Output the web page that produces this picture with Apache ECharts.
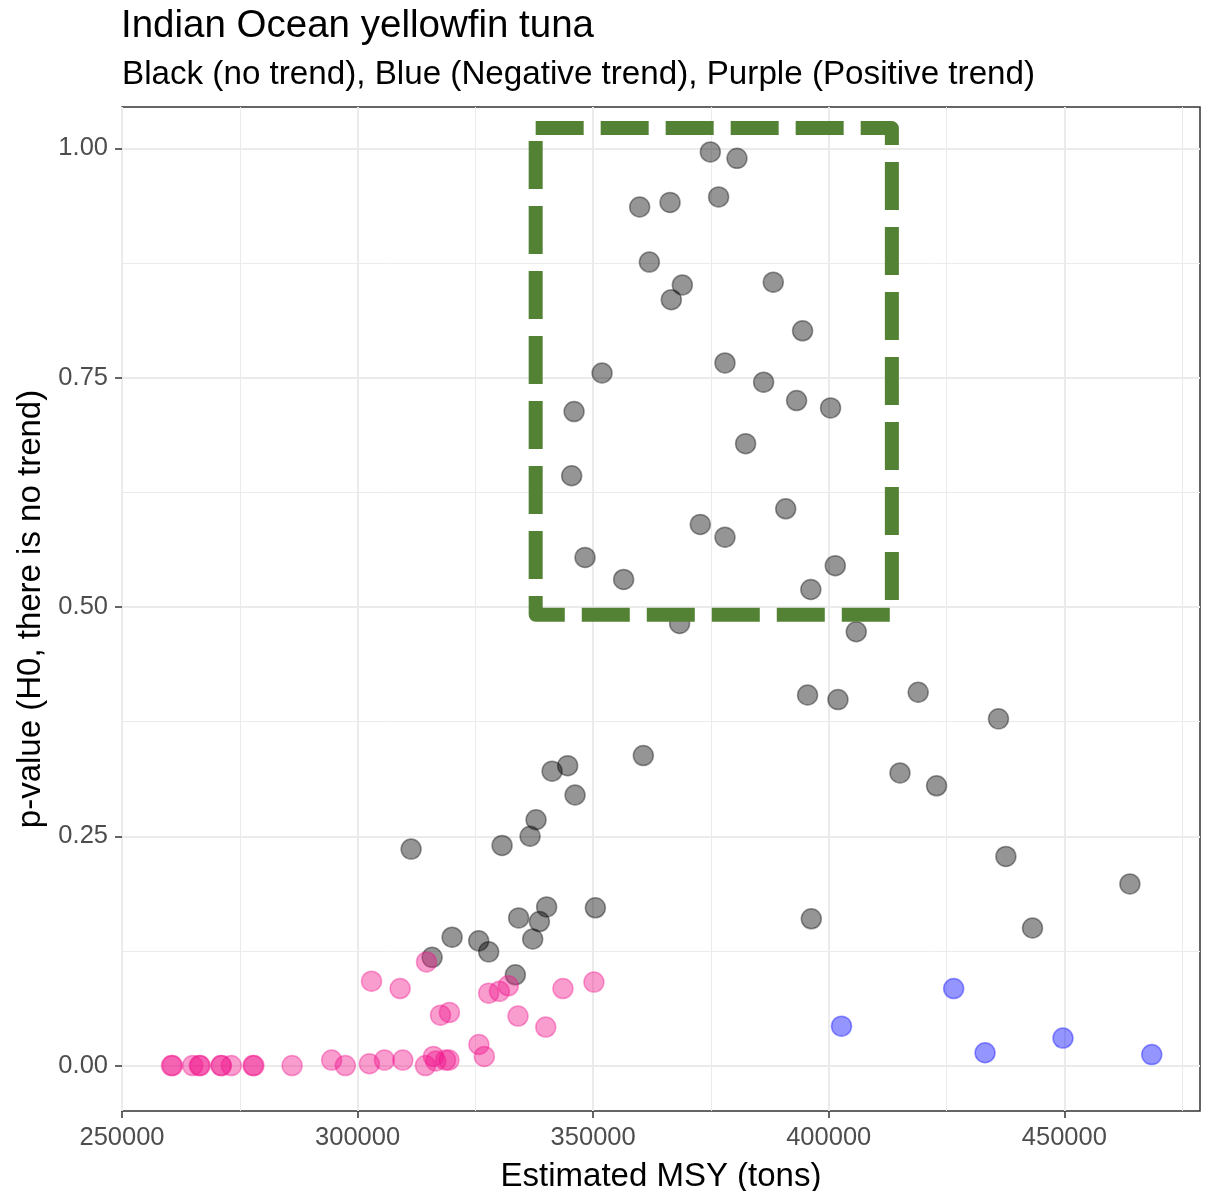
<!DOCTYPE html>
<html>
<head>
<meta charset="utf-8">
<title>Indian Ocean yellowfin tuna</title>
<script src="https://cdn.jsdelivr.net/npm/echarts@6/dist/echarts.min.js"></script>
<style>
  html, body { margin: 0; padding: 0; background: #ffffff; }
  #chart { width: 1214px; height: 1191px; }
</style>
</head>
<body>
<div id="chart"></div>
<script>
// Estimated MSY (tons) vs p-value, grouped by trend test outcome
const noTrendPts = [
  [374870, 0.996], [380530, 0.989], [359870, 0.936], [366320, 0.941], [376630, 0.947],
  [361930, 0.876], [368930, 0.851], [366590, 0.835], [388230, 0.854], [394450, 0.801],
  [351890, 0.755], [377980, 0.766], [386180, 0.745], [393180, 0.725], [400390, 0.717],
  [345950, 0.713], [382360, 0.678], [345440, 0.643], [390870, 0.607], [372740, 0.590],
  [377980, 0.576], [348280, 0.554], [401390, 0.545], [356470, 0.530], [396200, 0.519],
  [368350, 0.482], [405840, 0.473], [395510, 0.404], [401960, 0.399], [418990, 0.407],
  [436030, 0.378], [415120, 0.319], [422890, 0.305], [437600, 0.228], [463920, 0.198],
  [396300, 0.160], [443250, 0.150], [360650, 0.338], [344590, 0.327], [341280, 0.321],
  [346160, 0.295], [337880, 0.268], [336610, 0.250], [330670, 0.240], [311360, 0.236],
  [340130, 0.173], [350470, 0.172], [334190, 0.161], [338590, 0.157], [337170, 0.138],
  [320060, 0.140], [325710, 0.136], [327830, 0.124], [315820, 0.118], [333490, 0.099]
];
const positiveTrendPts = [
  [260500, 0.000], [260700, 0.000], [265000, 0.000], [266400, 0.000], [266600, 0.000],
  [271000, 0.000], [271100, 0.000], [273200, 0.000], [277800, 0.000], [278000, 0.000],
  [286100, 0.000], [294500, 0.006], [297400, 0.000], [302500, 0.002], [305700, 0.006],
  [309600, 0.006], [314400, 0.000], [316100, 0.010], [316600, 0.005], [318700, 0.006],
  [319400, 0.006], [325750, 0.023], [326900, 0.010], [302960, 0.092], [309030, 0.084],
  [314630, 0.113], [317600, 0.055], [319490, 0.058], [327830, 0.079], [330100, 0.081],
  [331990, 0.087], [334050, 0.054], [339940, 0.042], [343590, 0.084], [350170, 0.091]
];
const negativeTrendPts = [
  [402710, 0.043], [426520, 0.084], [433180, 0.014], [449720, 0.030], [468560, 0.012]
];

// highlighted region (dashed box)
const boxCorners = [
  [337800, 1.022], [413400, 1.022], [413400, 0.4914], [337800, 0.4914], [337800, 1.022]
];

// axis breaks
const xTicks = [250000, 300000, 350000, 400000, 450000];
const xMinorTicks = [275000, 325000, 375000, 425000, 475000];
const yTicks = [0, 0.25, 0.5, 0.75, 1.0];
const yMinorTicks = [0.125, 0.375, 0.625, 0.875];

const FONT = "'Liberation Sans', Arial, Helvetica, sans-serif";
const xRange = { min: 250000, max: 478800 };
const yRange = { min: -0.0495, max: 1.045 };

const chart = echarts.init(document.getElementById('chart'), null, { renderer: 'canvas' });

function majorAxis(range, ticks, labelFmt) {
  return {
    type: 'value',
    min: range.min,
    max: range.max,
    axisLine: { show: false, onZero: false },
    axisTick: { show: true, customValues: ticks, length: 7, lineStyle: { color: '#333333', width: 1.5 } },
    axisLabel: {
      show: true, customValues: ticks, color: '#4d4d4d', fontSize: 25.5, fontFamily: FONT,
      margin: 14, formatter: labelFmt
    },
    splitLine: { show: true, lineStyle: { color: '#ebebeb', width: 2 } },
    minorSplitLine: { show: false }
  };
}
function minorAxis(range, ticks) {
  return {
    type: 'value',
    min: range.min,
    max: range.max,
    axisLine: { show: false, onZero: false },
    axisTick: { show: false, customValues: ticks },
    axisLabel: { show: false, customValues: ticks },
    splitLine: { show: true, lineStyle: { color: '#ebebeb', width: 1 } }
  };
}

const xMain = majorAxis(xRange, xTicks, v => String(Math.round(v)));
Object.assign(xMain, {
  name: 'Estimated MSY (tons)',
  nameLocation: 'middle',
  nameGap: 49,
  nameTextStyle: { color: '#000000', fontSize: 33, fontFamily: FONT }
});
const yMain = majorAxis(yRange, yTicks, v => v.toFixed(2));
Object.assign(yMain, {
  name: 'p-value (H0, there is no trend)',
  nameLocation: 'middle',
  nameGap: 68,
  nameRotate: 90,
  nameTextStyle: { color: '#000000', fontSize: 33, fontFamily: FONT }
});

function pointSeries(name, pts, rgb, z) {
  return {
    name: name,
    type: 'scatter',
    data: pts,
    symbol: 'circle',
    symbolSize: 20,
    z: z,
    itemStyle: {
      color: 'rgba(' + rgb + ',0.52)',
      borderColor: 'rgba(' + rgb + ',0.5)',
      borderWidth: 1.5
    },
    emphasis: { disabled: true }
  };
}

chart.setOption({
  animation: false,
  backgroundColor: '#ffffff',
  title: [
    {
      text: 'Indian Ocean yellowfin tuna',
      left: 121, top: 6, padding: 0,
      textStyle: { color: '#000000', fontSize: 38.5, fontWeight: 'normal', fontFamily: FONT, lineHeight: 40 }
    },
    {
      text: 'Black (no trend), Blue (Negative trend), Purple (Positive trend)',
      left: 122, top: 57, padding: 0,
      textStyle: { color: '#000000', fontSize: 33.2, fontWeight: 'normal', fontFamily: FONT, lineHeight: 35 }
    }
  ],
  grid: {
    left: 122, right: 14, top: 107, bottom: 80,
    show: true, borderColor: '#333333', borderWidth: 1.5, backgroundColor: 'transparent',
    containLabel: false, outerBoundsMode: 'none'
  },
  xAxis: [xMain, minorAxis(xRange, xMinorTicks)],
  yAxis: [yMain, minorAxis(yRange, yMinorTicks)],
  series: [
    pointSeries('no trend', noTrendPts, '0,0,0', 3),
    pointSeries('Positive trend', positiveTrendPts, '240,20,140', 4),
    pointSeries('Negative trend', negativeTrendPts, '0,0,255', 5),
    {
      name: 'box',
      type: 'line',
      data: boxCorners,
      symbol: 'none',
      silent: true,
      z: 10,
      lineStyle: { color: '#548235', width: 14, type: [48, 17], cap: 'butt', join: 'round' }
    }
  ]
});
</script>
</body>
</html>
